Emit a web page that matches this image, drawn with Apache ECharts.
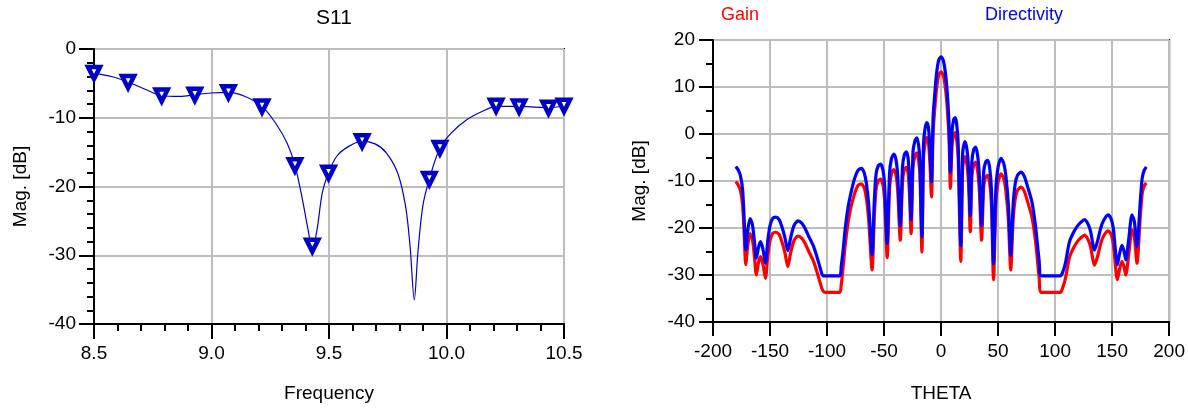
<!DOCTYPE html>
<html>
<head>
<meta charset="utf-8">
<script src="https://cdn.jsdelivr.net/npm/echarts@6/dist/echarts.min.js"></script>
<style>
html,body{margin:0;padding:0;background:#fff;}
#chart{width:1188px;height:408px;}
</style>
</head>
<body>
<div id="chart"></div>
<script>
// ---- S11 (left) ----
const s11Freq = [8.5, 8.575, 8.645, 8.72, 8.788, 8.867, 8.929, 8.997, 9.072, 9.143, 9.215, 9.273, 9.322, 9.355, 9.387, 9.411, 9.429, 9.449, 9.471, 9.498, 9.533, 9.582, 9.641, 9.696, 9.744, 9.793, 9.826, 9.845, 9.863, 9.878, 9.899, 9.927, 9.972, 10.021, 10.086, 10.151, 10.211, 10.309, 10.378, 10.434, 10.5];
const s11Mag = [-3.5, -4.0, -4.8, -5.9, -6.8, -6.9, -6.65, -6.4, -6.3, -6.9, -8.35, -10.8, -13.7, -16.9, -21.9, -26.3, -29.0, -26.3, -21.0, -18.0, -15.6, -14.2, -13.4, -13.8, -15.1, -18.1, -22.9, -28.7, -36.5, -29.7, -22.9, -18.9, -14.4, -12.2, -10.3, -9.1, -8.35, -8.35, -8.45, -8.55, -8.25];
const markerFreq = [8.5, 8.645, 8.788, 8.929, 9.072, 9.215, 9.355, 9.429, 9.498, 9.641, 9.927, 9.972, 10.211, 10.309, 10.434, 10.5];
const markerMag = [-3.5, -4.8, -6.75, -6.65, -6.3, -8.35, -16.9, -28.6, -18.0, -13.4, -18.9, -14.4, -8.25, -8.35, -8.55, -8.25];
const s11XTicks = [8.5, 10.5, 0.5];
const s11YTicks = [-40, 0, 10];

// ---- Gain / Directivity (right) ----
const theta = [-180,-178,-176,-174,-172.5,-171.3,-169.5,-167.5,-165.5,-163.8,-162,-160,-158.3,-156.3,-154,-152,-150,-147.5,-145,-142,-139.5,-137,-134.4,-132,-129,-125.5,-122,-119,-116,-112,-109,-106,-103.5,-101,-89,-87.5,-86,-84,-81.5,-79,-76,-73,-70,-67.5,-65.5,-63.5,-60.5,-58.5,-57,-55,-53,-51,-49.5,-47.3,-45.2,-43.5,-41.5,-39.5,-38,-35.8,-33.8,-32.2,-30.5,-29,-27.8,-26.3,-24.6,-23,-21.3,-19.7,-18.5,-16.8,-15.4,-14,-12.5,-11,-9.8,-8.4,-7,-5.5,-4,-2,0,2,4,5.5,7,8.2,9.6,11,12.3,13.6,15,17.3,19,21,22.8,24.2,25.6,27,28.5,30.2,32,33.6,35.5,37.4,39,40.7,42.5,44.2,46,48,50,52.6,55,57,59,61.1,63.2,65,67,70,73,76,79.8,83,86,88,104.5,106.5,109,112.5,116,119.5,122.5,125.8,128.5,131,134.6,137.5,140,142.5,146.5,149,151,154.6,156.5,158.6,160.5,162,164.5,167.4,169.5,171.8,174.5,176.3,178,180];
const directivity = [-6.9,-7.6,-8.8,-12,-19,-24.7,-20.5,-18.0,-19.2,-22.5,-26.4,-24.0,-22.9,-24.4,-27.5,-22.8,-19.5,-17.9,-17.7,-18.2,-19.8,-22,-24.8,-22.2,-19.5,-18.5,-19,-20.2,-21.8,-23.8,-26,-28.5,-30.2,-30.2,-30.2,-28,-25,-20,-15.5,-12.5,-9.6,-7.8,-7.3,-8.2,-10.5,-15,-25.7,-14,-8.5,-6.7,-6.4,-7.6,-11,-23.3,-8.5,-5.2,-4.3,-5.5,-9,-19.5,-7,-4.4,-3.8,-5,-9,-18.2,-3.8,-1.5,-0.8,-2.4,-6,-21.9,-2,1.2,2.4,1.2,-3,-10.2,3.5,8.6,12.8,15.8,16.4,15.6,12.6,8.5,2,-8.2,0.5,3,3.5,2.3,-2,-23.8,-3.8,-1.6,-3.5,-8,-17.4,-6,-3.4,-2.8,-4.5,-9,-19.5,-8,-6,-5.6,-7,-12,-27.6,-12,-7,-5.2,-6.3,-9.3,-15,-25.8,-15,-10.6,-8.8,-8.1,-9.0,-11.3,-14.6,-20,-27,-30.2,-30.2,-29.5,-27.5,-23,-21,-19.6,-18.8,-18.2,-19,-20.6,-24.7,-22.5,-20,-18.4,-17.2,-18,-20,-27.8,-25.5,-23.7,-25,-26.8,-22.5,-17.2,-18.6,-24,-15,-9.5,-7.8,-7.0];
const gain = [-10.1,-10.8,-12.0,-15.2,-22.2,-27.8,-23.7,-21.2,-22.4,-25.7,-30.0,-27.2,-26.1,-27.6,-30.7,-26.0,-22.7,-21.1,-20.9,-21.4,-23.0,-25.2,-28.2,-25.4,-22.7,-21.7,-22.2,-23.4,-25.0,-27.0,-29.2,-31.7,-33.4,-33.7,-33.7,-32,-28.5,-23.5,-18.8,-15.5,-12.8,-11.0,-10.6,-11.4,-13.7,-18.2,-28.9,-17.2,-11.7,-9.9,-9.6,-10.8,-14.2,-26.3,-11.7,-8.4,-7.6,-8.7,-12.2,-22.6,-10.2,-7.6,-7.1,-8.2,-12.2,-21.2,-7.0,-4.7,-4.0,-5.6,-9.2,-25.1,-5.2,-2.0,-0.7,-2.0,-6.2,-13.4,0.3,5.4,9.6,12.6,13.2,12.4,9.4,5.3,-1.2,-11.6,-2.7,-0.2,0.3,-0.9,-5.2,-27.1,-7.0,-4.8,-6.7,-11.2,-20.8,-9.2,-6.6,-6.0,-7.7,-12.2,-22.6,-11.2,-9.2,-8.8,-10.2,-15.2,-31.0,-15.2,-10.2,-8.5,-9.5,-12.5,-18.2,-28.9,-18.2,-13.8,-12.0,-11.3,-12.2,-14.5,-17.8,-23.2,-30.5,-33.7,-33.7,-32.8,-30.8,-26.3,-24.3,-22.9,-22.1,-21.5,-22.3,-23.9,-27.9,-25.8,-23.3,-21.7,-20.6,-21.3,-23.3,-31.0,-28.8,-27.1,-28.3,-30.0,-25.8,-20.4,-21.9,-27.5,-18.3,-12.8,-11.1,-10.4];
const thetaTicks = [-200, 200, 50];
const patternYTicks = [-40, 20, 10];

const FONT = '"Liberation Sans", Arial, sans-serif';
const txt = {color:'#000', fontFamily: FONT};
const gridLine = {show:true, lineStyle:{color:'#bdbdbd', width:2}};

function pairs(xs, ys){ return xs.map((x,i)=>[x, ys[i]]); }

const chart = echarts.init(document.getElementById('chart'), null, {renderer:'canvas'});
chart.setOption({
  backgroundColor:'#fff',
  animation:false,
  title:[
    {text:'S11', left:329, top:3, textAlign:'center', textStyle:{...txt, fontSize:21, fontWeight:'normal'}},
    {text:'Gain', left:735, top:1, textAlign:'center', textStyle:{...txt, color:'#ff0000', fontSize:18, fontWeight:'normal'}},
    {text:'Directivity', left:1019, top:1, textAlign:'center', textStyle:{...txt, color:'#0000ff', fontSize:18, fontWeight:'normal'}}
  ],
  grid:[
    {left:94, top:49, width:470, height:275, show:true, borderColor:'#000', borderWidth:2, backgroundColor:'transparent'},
    {left:713, top:40, width:457, height:284, show:true, borderColor:'#000', borderWidth:2, backgroundColor:'transparent'}
  ],
  xAxis:[
    {gridIndex:0, type:'value', min:s11XTicks[0], max:s11XTicks[1], interval:s11XTicks[2],
     name:'Frequency', nameLocation:'middle', nameGap:60, nameTextStyle:{...txt, fontSize:19},
     axisLine:{onZero:false, lineStyle:{color:'#000', width:2}},
     axisTick:{show:true, inside:false, length:15, lineStyle:{color:'#000', width:2}},
     minorTick:{show:true, splitNumber:5, length:7, lineStyle:{color:'#000', width:2}},
     axisLabel:{...txt, fontSize:19, margin:20, formatter:v=>v.toFixed(1)},
     splitLine:gridLine},
    {gridIndex:1, type:'value', min:thetaTicks[0], max:thetaTicks[1], interval:thetaTicks[2],
     name:'THETA', nameLocation:'middle', nameGap:62, nameTextStyle:{...txt, fontSize:19},
     axisLine:{onZero:false, lineStyle:{color:'#000', width:2}},
     axisTick:{show:true, inside:false, length:14, lineStyle:{color:'#000', width:2}},
     axisLabel:{...txt, fontSize:19, margin:20},
     splitLine:gridLine}
  ],
  yAxis:[
    {gridIndex:0, type:'value', min:s11YTicks[0], max:s11YTicks[1], interval:s11YTicks[2],
     name:'Mag. [dB]', nameLocation:'middle', nameGap:64, nameTextStyle:{...txt, fontSize:19},
     axisLine:{onZero:false, lineStyle:{color:'#000', width:2}},
     axisTick:{show:true, inside:false, length:15, lineStyle:{color:'#000', width:2}},
     minorTick:{show:true, splitNumber:5, length:7, lineStyle:{color:'#000', width:2}},
     axisLabel:{...txt, fontSize:19, margin:18},
     splitLine:gridLine},
    {gridIndex:1, type:'value', min:patternYTicks[0], max:patternYTicks[1], interval:patternYTicks[2],
     name:'Mag. [dB]', nameLocation:'middle', nameGap:64, nameTextStyle:{...txt, fontSize:19},
     axisLine:{onZero:false, lineStyle:{color:'#000', width:2}},
     axisTick:{show:true, inside:false, length:14, lineStyle:{color:'#000', width:2}},
     minorTick:{show:true, splitNumber:2, length:7, lineStyle:{color:'#000', width:2}},
     axisLabel:{...txt, fontSize:19, margin:18},
     splitLine:gridLine}
  ],
  series:[
    {type:'line', xAxisIndex:0, yAxisIndex:0, data:pairs(s11Freq, s11Mag), smooth:0.3, showSymbol:false,
     lineStyle:{color:'#0000cc', width:1.2}, z:3},
    {type:'scatter', xAxisIndex:0, yAxisIndex:0, data:pairs(markerFreq, markerMag), symbol:'triangle', symbolRotate:180, symbolSize:12,
     itemStyle:{color:'#ffffff', borderColor:'#0000c8', borderWidth:4.5, opacity:1}, z:4},
    {type:'line', name:'Gain', xAxisIndex:1, yAxisIndex:1, data:pairs(theta, gain), smooth:0.25, showSymbol:false,
     lineStyle:{color:'#ff0000', width:3.2}, z:3},
    {type:'line', name:'Directivity', xAxisIndex:1, yAxisIndex:1, data:pairs(theta, directivity), smooth:0.25, showSymbol:false,
     lineStyle:{color:'#0000ff', width:3.2}, z:4}
  ]
});
</script>
</body>
</html>
